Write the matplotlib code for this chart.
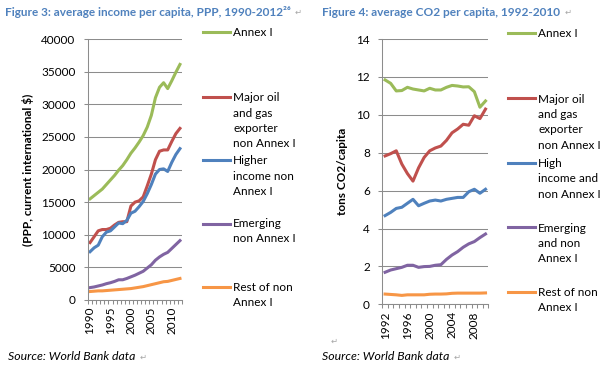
import matplotlib.pyplot as plt
from matplotlib.legend import Legend
from matplotlib.legend_handler import HandlerLine2D

plt.rcParams['font.family'] = ['Lato', 'DejaVu Sans']

# -------------------- data --------------------
income_years = list(range(1990, 2013))
income_annex1 = [15500, 16000, 16500, 17000, 17700, 18400, 19100, 19900, 20600, 21500, 22500, 23300,
                 24200, 25200, 26500, 28300, 31000, 32600, 33300, 32400, 33600, 34900, 36100]
income_oil = [8800, 9700, 10600, 10800, 10800, 11000, 11500, 11900, 12000, 12000, 14400, 15000,
              15200, 15800, 17500, 19300, 21500, 22800, 23000, 23000, 24300, 25500, 26300]
income_higher = [7400, 8000, 8400, 9700, 10400, 10600, 11200, 11800, 11700, 12200, 13300, 13600,
                 14300, 15100, 16300, 17700, 19300, 20000, 20100, 19700, 21100, 22300, 23200]
income_emerging = [1900, 2000, 2150, 2300, 2500, 2650, 2850, 3100, 3100, 3300, 3550, 3800,
                   4100, 4400, 4900, 5400, 6100, 6600, 7000, 7300, 7900, 8500, 9100]
income_rest = [1300, 1350, 1400, 1400, 1450, 1500, 1550, 1600, 1650, 1700, 1750, 1850,
               1950, 2050, 2200, 2350, 2500, 2650, 2800, 2850, 3000, 3150, 3300]
income_labels = ["Annex I", "Major oil\nand gas\nexporter\nnon Annex I", "Higher\nincome non\nAnnex I",
                 "Emerging\nnon Annex I", "Rest of non\nAnnex I"]

co2_years = list(range(1992, 2011))
co2_annex1 = [11.84, 11.66, 11.26, 11.28, 11.45, 11.36, 11.31, 11.26, 11.40, 11.31, 11.31, 11.45,
              11.55, 11.52, 11.47, 11.48, 11.22, 10.40, 10.73]
co2_oil = [7.83, 7.95, 8.10, 7.40, 6.90, 6.50, 7.20, 7.75, 8.10, 8.25, 8.35, 8.65,
           9.05, 9.25, 9.50, 9.45, 9.95, 9.80, 10.30]
co2_high = [4.68, 4.85, 5.06, 5.12, 5.33, 5.54, 5.20, 5.33, 5.45, 5.50, 5.45, 5.54,
            5.59, 5.64, 5.64, 5.94, 6.07, 5.86, 6.07]
co2_emerging = [1.69, 1.81, 1.88, 1.95, 2.06, 2.06, 1.95, 1.99, 2.00, 2.06, 2.09, 2.37,
                2.60, 2.78, 3.01, 3.19, 3.31, 3.52, 3.71]
co2_rest = [0.54, 0.52, 0.50, 0.47, 0.50, 0.50, 0.50, 0.50, 0.53, 0.54, 0.54, 0.55,
            0.58, 0.59, 0.59, 0.59, 0.59, 0.59, 0.60]
co2_labels = ["Annex I", "Major oil\nand gas\nexporter\nnon Annex I", "High\nincome and\nnon Annex I",
              "Emerging\nand non\nAnnex I", "Rest of non\nAnnex I"]

colors = ["#9BBB59", "#C0504D", "#4F81BD", "#8064A2", "#F79646"]
GRID = "#8C8C8C"
TITLE_BLUE = "#4F81BD"
MARK = "#A6A6A6"
W, H = 613, 366
PITCH = 16.3       # legend line pitch, px
LEG_FS = 8.5

fig = plt.figure(figsize=(W / 100, H / 100), dpi=100)


def px(x, y):
    return x / W, 1 - y / H


class FirstLineHandler(HandlerLine2D):
    """Line handle moved up so it sits next to the first line of the label."""
    def __init__(self, shift, **kw):
        super().__init__(**kw)
        self.shift = shift

    def create_artists(self, legend, orig_handle, xdescent, ydescent, width, height, fontsize, trans):
        artists = super().create_artists(legend, orig_handle, xdescent, ydescent,
                                         width, height, fontsize, trans)
        for a in artists:
            a.set_ydata([y + self.shift for y in a.get_ydata()])
        return artists


def style_axes(ax, years, ylim, yticks, xticks):
    ax.set_xlim(years[0] - 0.5, years[-1] + 0.5)
    ax.set_ylim(*ylim)
    ax.set_yticks(yticks)
    ax.set_xticks(xticks)
    ax.set_xticks([y - 0.5 for y in years] + [years[-1] + 0.5], minor=True)
    ax.tick_params(axis='x', which='major', length=0, pad=5, labelrotation=90, labelsize=8.5)
    ax.tick_params(axis='x', which='minor', length=3, width=0.75, color=GRID)
    ax.tick_params(axis='y', length=3, width=0.75, color=GRID, pad=6, labelsize=8.5)
    ax.grid(axis='y', color=GRID, lw=0.75)
    ax.set_axisbelow(True)
    for s in ['top', 'right']:
        ax.spines[s].set_visible(False)
    for s in ['left', 'bottom']:
        ax.spines[s].set_color(GRID)
        ax.spines[s].set_linewidth(0.75)


def add_legend(ax, lines, labels, x0, y0, step):
    # one legend per entry (Excel keeps equal slots)
    for i, (line, label) in enumerate(zip(lines, labels)):
        n = label.count("\n")
        shift = n / 2 * PITCH * 72 / 100
        leg = Legend(ax, [line], [label], loc="center left",
                     bbox_to_anchor=px(x0, y0 + i * step + n / 2 * PITCH),
                     bbox_transform=fig.transFigure,
                     handler_map={line: FirstLineHandler(shift)},
                     frameon=False, borderpad=0, borderaxespad=0,
                     handlelength=2.3, handletextpad=0.25, fontsize=LEG_FS)
        for t in leg.get_texts():
            t.set_linespacing(1.47)
        ax.add_artist(leg)


# -------------------- left: income --------------------
ax1 = fig.add_axes([88 / W, 1 - 300 / H, 94 / W, 261 / H])
series1 = [income_annex1, income_oil, income_higher, income_emerging, income_rest]
lines1 = [ax1.plot(income_years, s, color=c, lw=2.2, solid_joinstyle='round')[0]
          for s, c in zip(series1, colors)]
style_axes(ax1, income_years, (0, 40000), range(0, 40001, 5000), [1990, 1995, 2000, 2005, 2010])
ax1.set_ylabel("(PPP, current international $)", fontsize=8.5, fontweight='bold', labelpad=5)
add_legend(ax1, lines1, income_labels, 203, 32.7, 63.5)

# -------------------- right: CO2 --------------------
ax2 = fig.add_axes([382.3 / W, 1 - 304.3 / H, 106 / W, 265.3 / H])
series2 = [co2_annex1, co2_oil, co2_high, co2_emerging, co2_rest]
lines2 = [ax2.plot(co2_years, s, color=c, lw=2.2, solid_joinstyle='round')[0]
          for s, c in zip(series2, colors)]
style_axes(ax2, co2_years, (0, 14), range(0, 15, 2), [1992, 1996, 2000, 2004, 2008])
ax2.set_ylabel("tons CO2/capita", fontsize=8.5, fontweight='bold', labelpad=6)
add_legend(ax2, lines2, co2_labels, 508, 33.3, 64.6)

# -------------------- titles and notes --------------------
texts = [
    fig.text(*px(5, 12), "Figure 3: average income per capita, PPP, 1990-2012\u00b2\u2076",
             fontsize=8.5, fontweight='bold', color=TITLE_BLUE, va='center'),
    fig.text(*px(322, 12), "Figure 4: average CO2 per capita, 1992-2010",
             fontsize=8.6, fontweight='bold', color=TITLE_BLUE, va='center'),
    fig.text(*px(8, 357), "Source: World Bank data", fontsize=8.8, style='italic', va='center'),
    fig.text(*px(322, 357), "Source: World Bank data", fontsize=8.8, style='italic', va='center'),
]
# Word paragraph marks right after each text
for t in texts:
    fig.add_artist(plt.Annotation("\u21b5", xy=(1, 0.45), xycoords=t, xytext=(3, 0),
                                  textcoords='offset points', fontsize=6, color=MARK,
                                  va='center', ha='left'))
fig.text(*px(331, 341), "\u21b5", fontsize=6, color=MARK, va='center')

fig.savefig("out.png", dpi=100)
